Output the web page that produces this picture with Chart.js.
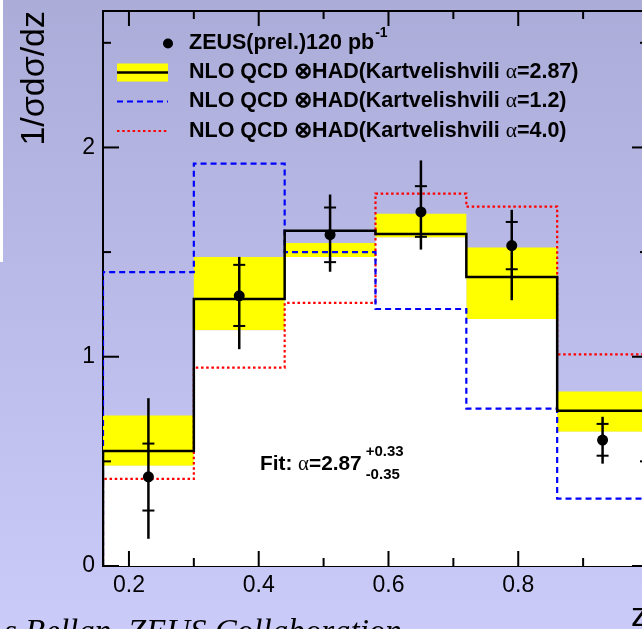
<!DOCTYPE html>
<html><head><meta charset="utf-8">
<script src="https://cdn.jsdelivr.net/npm/chart.js@4.4.0/dist/chart.umd.min.js"></script>
<style>
html,body{margin:0;padding:0;overflow:hidden;width:642px;height:629px;background:#c8c8f6}
#wrap{position:absolute;left:0;top:0;width:660px;height:660px}
</style></head><body><div id="wrap"><canvas id="c" width="660" height="660"></canvas></div>
<script>
// ---- data ----
const binEdges   = [0.16, 0.30, 0.44, 0.58, 0.72, 0.86, 1.00];
const nloCentral = [0.550, 1.276, 1.602, 1.587, 1.381, 0.742];   // alpha = 2.87
const nloUpper   = [0.719, 1.476, 1.543, 1.683, 1.522, 0.834];
const nloLower   = [0.479, 1.126, 1.477, 1.570, 1.180, 0.641];
const nloAlpha12 = [1.404, 1.923, 1.500, 1.228, 0.752, 0.322];
const nloAlpha40 = [0.416, 0.948, 1.257, 1.779, 1.717, 1.011];
const zCenters   = [0.23, 0.37, 0.51, 0.65, 0.79, 0.93];
const zeusValues = [0.426, 1.291, 1.583, 1.692, 1.531, 0.602];
const statHigh   = [0.585, 1.439, 1.713, 1.815, 1.644, 0.679];
const statLow    = [0.265, 1.147, 1.452, 1.573, 1.418, 0.527];
const totHigh    = [0.802, 1.477, 1.775, 1.938, 1.702, 0.713];
const totLow     = [0.130, 1.036, 1.406, 1.512, 1.270, 0.489];
const xTickLabels = [0.2, 0.4, 0.6, 0.8];
const yTickLabels = [0, 1, 2];
const xMajorTicks = [0.2, 0.4, 0.6, 0.8, 1.0];
const xMinorTicks = [0.3, 0.5, 0.7, 0.9];
const yMajorTicks = [0, 1, 2];
const yMinorTicks = [0.5, 1.5, 2.5];
const legendLabels = [
  ['ZEUS(prel.)120 pb', '-1'],
  ['NLO QCD \u2297HAD(Kartvelishvili ', '\u03b1', '=2.87)'],
  ['NLO QCD \u2297HAD(Kartvelishvili ', '\u03b1', '=1.2)'],
  ['NLO QCD \u2297HAD(Kartvelishvili ', '\u03b1', '=4.0)']
];
const fitText = ['Fit: ', '\u03b1', '=2.87', '+0.33', '-0.35'];
const yTitle = '1/\u03c3d\u03c3/dz';
const xTitle = 'z';
const caption = 's Bellan, ZEUS Collaboration';

function histPoints(vals, closed) {
  const pts = [];
  const last = binEdges.length - 1;
  if (closed) pts.push({x: binEdges[0], y: 0});
  vals.forEach((v, i) => pts.push({x: binEdges[i], y: v}));
  pts.push({x: binEdges[last], y: vals[vals.length - 1]});
  if (closed) pts.push({x: binEdges[last], y: 0});
  return pts;
}

const SANS = '"Liberation Sans", Arial, sans-serif';

const bgPlugin = {
  id: 'bg',
  beforeDraw(chart) {
    const ctx = chart.ctx;
    ctx.save();
    const g = ctx.createLinearGradient(0, 0, 0, 629);
    g.addColorStop(0, '#acacd9');
    g.addColorStop(1, '#cbcbfa');
    ctx.fillStyle = g;
    ctx.fillRect(0, 0, chart.width, chart.height);
    ctx.fillStyle = '#ffffff';
    ctx.fillRect(0, 0, 3, 262);
    ctx.restore();
  }
};

const framePlugin = {
  id: 'frame',
  afterDatasetsDraw(chart) {
    const {ctx, chartArea: a, scales: {x, y}} = chart;
    ctx.save();
    ctx.strokeStyle = '#000';
    ctx.lineWidth = 2;
    const ln = (x1, y1, x2, y2) => { ctx.beginPath(); ctx.moveTo(x1, y1); ctx.lineTo(x2, y2); ctx.stroke(); };
    ln(a.left, a.top, a.right, a.top);
    ln(a.right, a.top, a.right, a.bottom);
    xMajorTicks.forEach(v => { const p = x.getPixelForValue(v); ln(p, a.bottom, p, a.bottom - 15); ln(p, a.top, p, a.top + 15); });
    xMinorTicks.forEach(v => { const p = x.getPixelForValue(v); ln(p, a.bottom, p, a.bottom - 8); ln(p, a.top, p, a.top + 8); });
    yMajorTicks.forEach(v => { const p = y.getPixelForValue(v); ln(a.left, p, a.left + 16, p); ln(a.right, p, a.right - 16, p); });
    yMinorTicks.forEach(v => { const p = y.getPixelForValue(v); ln(a.left, p, a.left + 8, p); ln(a.right, p, a.right - 8, p); });

    // error bars
    zCenters.forEach((z, i) => {
      const px = x.getPixelForValue(z);
      ctx.lineWidth = 2.5;
      ln(px, y.getPixelForValue(totLow[i]), px, y.getPixelForValue(totHigh[i]));
      ctx.lineWidth = 2;
      [statLow[i], statHigh[i]].forEach(v => { const py = y.getPixelForValue(v); ln(px - 6, py, px + 6, py); });
    });
    ctx.restore();
  }
};

function richText(ctx, parts, x, y) {
  let cx = x;
  parts.forEach(([t, f, dy]) => {
    ctx.font = f;
    ctx.fillText(t, cx, y + (dy || 0));
    cx += ctx.measureText(t).width;
  });
  return cx;
}

const legendPlugin = {
  id: 'legendDraw',
  afterDraw(chart) {
    const ctx = chart.ctx;
    ctx.save();
    ctx.fillStyle = '#000';
    ctx.textBaseline = 'middle';
    ctx.textAlign = 'left';
    const B = 'bold 21.5px ' + SANS;
    const A = '21.5px "Liberation Serif", serif';
    const rows = [43.5, 72.5, 101.5, 131];
    const tx = 189, s0 = 117, s1 = 168;
    // row 1
    ctx.beginPath(); ctx.arc(168, rows[0], 5, 0, Math.PI * 2); ctx.fill();
    const endX = richText(ctx, [[legendLabels[0][0], B]], tx, rows[0]);
    ctx.font = 'bold 14px ' + SANS;
    ctx.fillText(legendLabels[0][1], endX + 1, rows[0] - 10);
    // row 2
    ctx.fillStyle = '#ffff00';
    ctx.fillRect(s0, rows[1] - 9, s1 - s0, 18);
    ctx.strokeStyle = '#000'; ctx.lineWidth = 2.5;
    ctx.beginPath(); ctx.moveTo(s0, rows[1]); ctx.lineTo(s1, rows[1]); ctx.stroke();
    ctx.fillStyle = '#000';
    // row 3
    ctx.strokeStyle = '#0000ff'; ctx.lineWidth = 2.2; ctx.setLineDash([6, 4]);
    ctx.beginPath(); ctx.moveTo(s0, rows[2]); ctx.lineTo(s1, rows[2]); ctx.stroke();
    ctx.strokeStyle = '#ff0000'; ctx.setLineDash([2.5, 2.7]);
    ctx.beginPath(); ctx.moveTo(s0, rows[3]); ctx.lineTo(s1, rows[3]); ctx.stroke();
    ctx.setLineDash([]);
    for (let r = 1; r < 4; r++) {
      const L = legendLabels[r];
      richText(ctx, [[L[0], B], [L[1], A], [L[2], B]], tx, rows[r]);
    }
    // fit annotation
    const FB = 'bold 20.8px ' + SANS;
    const FA = '20.8px "Liberation Serif", serif';
    const e = richText(ctx, [[fitText[0], FB], [fitText[1], FA], [fitText[2], FB]], 260, 464.5);
    ctx.font = 'bold 15px ' + SANS;
    ctx.fillText(fitText[3], e + 4, 452);
    ctx.fillText(fitText[4], e + 4, 475);
    // caption
    ctx.font = 'italic 33px "Liberation Serif", serif';
    ctx.textBaseline = 'alphabetic';
    ctx.fillText(caption, 4, 642);
    ctx.restore();
  }
};

new Chart(document.getElementById('c'), {
  type: 'line',
  data: {
    datasets: [
      { label: 'ZEUS', data: zCenters.map((z, i) => ({x: z, y: zeusValues[i]})),
        showLine: false, pointRadius: 5.5, pointBackgroundColor: '#000', pointBorderColor: '#000',
        pointBorderWidth: 0, order: 0 },
      { label: 'alpha=2.87', data: histPoints(nloCentral, true), stepped: 'before',
        borderColor: '#000', borderWidth: 2.5, pointRadius: 0, fill: false, order: 1 },
      { label: 'alpha=1.2', data: histPoints(nloAlpha12, true), stepped: 'before',
        borderColor: '#0000ff', borderWidth: 2.2, borderDash: [6, 4], pointRadius: 0, fill: false, order: 2 },
      { label: 'alpha=4.0', data: histPoints(nloAlpha40, true), stepped: 'before',
        borderColor: '#ff0000', borderWidth: 2.2, borderDash: [2.5, 2.7], pointRadius: 0, fill: false, order: 3 },
      { label: 'lower', data: histPoints(nloLower, false), stepped: 'before',
        borderColor: 'rgba(0,0,0,0)', borderWidth: 0, pointRadius: 0,
        fill: 'origin', backgroundColor: '#ffffff', order: 10 },
      { label: 'upper', data: histPoints(nloUpper, false), stepped: 'before',
        borderColor: 'rgba(0,0,0,0)', borderWidth: 0, pointRadius: 0,
        fill: {target: 4, above: '#ffff00', below: '#ffff00'}, backgroundColor: '#ffff00', order: 10 }
    ]
  },
  options: {
    responsive: false,
    devicePixelRatio: 1,
    animation: false,
    events: [],
    layout: { padding: { left: 0, right: 12, top: 11, bottom: 0 } },
    plugins: { legend: { display: false }, tooltip: { enabled: false } },
    scales: {
      x: {
        type: 'linear', min: 0.16, max: 1.0, position: 'bottom',
        grid: { display: false, drawTicks: false },
        border: { display: true, color: '#000', width: 2 },
        afterBuildTicks: s => { s.ticks = xTickLabels.map(v => ({value: v})); },
        afterFit: s => { s.height = 94; s.paddingLeft = 0; s.paddingRight = 0; },
        ticks: { color: '#000', font: { family: SANS, size: 23 }, padding: 6, maxRotation: 0,
                 callback: v => String(v) },
        title: { display: true, text: xTitle, align: 'end', color: '#000',
                 font: { family: SANS, size: 34 }, padding: { top: 0, bottom: 23 } }
      },
      y: {
        type: 'linear', min: 0, max: 2.652,
        grid: { display: false, drawTicks: false },
        border: { display: true, color: '#000', width: 2 },
        afterBuildTicks: s => { s.ticks = yTickLabels.map(v => ({value: v})); },
        afterFit: s => { s.width = 103; s.paddingTop = 0; s.paddingBottom = 0; },
        ticks: { color: '#000', font: { family: SANS, size: 23 }, padding: 8,
                 callback: v => String(v) },
        title: { display: true, text: yTitle, align: 'end', color: '#000',
                 font: { family: SANS, size: 34 }, padding: { top: 14, bottom: 0 } }
      }
    }
  },
  plugins: [bgPlugin, framePlugin, legendPlugin]
});
</script></body></html>
